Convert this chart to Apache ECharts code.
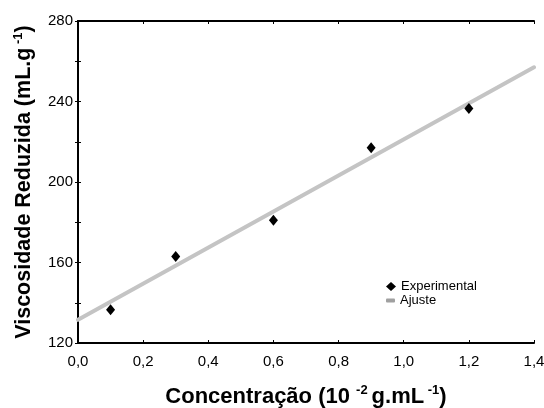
<!DOCTYPE html>
<html><head><meta charset="utf-8">
<script src="https://cdn.jsdelivr.net/npm/echarts@6/dist/echarts.min.js"></script>
<style>html,body{margin:0;padding:0;background:#fff}#c{width:544px;height:408px}</style>
</head><body><div id="c"></div>
<script>
var concentration = [0.1, 0.3, 0.6, 0.9, 1.2];
var viscosity = [136.5, 163, 181, 217, 236.5];
var fitX = [0, 1.4];
var fitY = [131.5, 257];
var xTicks = [0, 1.4, 0.2];
var yTicks = [120, 280, 40];

var ff = 'Liberation Sans, Arial, sans-serif';
var chart = echarts.init(document.getElementById('c'));
var expData = concentration.map(function(x,i){return [x, viscosity[i]];});
var fitData = fitX.map(function(x,i){return [x, fitY[i]];});
function fmt(v){return v.toFixed(1).replace('.', ',');}
var richX = {
  b:{fontFamily:ff,fontSize:22,fontWeight:'bold',color:'#000',lineHeight:25},
  s:{fontFamily:ff,fontSize:13,fontWeight:'bold',color:'#000',verticalAlign:'top',lineHeight:14,padding:[0,4,0,0]},
  t:{fontFamily:ff,fontSize:13,fontWeight:'bold',color:'#000',verticalAlign:'top',lineHeight:14}
};
var richY = {
  b:{fontFamily:ff,fontSize:21.5,fontWeight:'bold',color:'#000',lineHeight:24},
  t:{fontFamily:ff,fontSize:13,fontWeight:'bold',color:'#000',verticalAlign:'top',lineHeight:14}
};
var legendText = {fontFamily:ff,fontSize:13,color:'#000'};
chart.setOption({
  animation:false,
  backgroundColor:'#fff',
  grid:{left:78,right:10,top:21,bottom:65,outerBoundsMode:'none',containLabel:false},
  legend:[{
    orient:'vertical', left:381, top:275, itemWidth:10, itemHeight:9,
    textStyle:legendText,
    data:[{name:'Experimental',icon:'diamond',itemStyle:{color:'#000',opacity:1}}]
  },{
    orient:'vertical', left:381, top:289, itemWidth:9, itemHeight:4,
    textStyle:legendText,
    data:[{name:'Ajuste',icon:'roundRect',itemStyle:{color:'#a0a0a0'}}]
  }],
  xAxis:[{
    type:'value', min:xTicks[0], max:xTicks[1], interval:xTicks[2],
    axisLine:{lineStyle:{color:'#000',width:2}},
    axisTick:{inside:true,length:3,lineStyle:{color:'#000'}},
    splitLine:{show:false},
    axisLabel:{fontFamily:ff,fontSize:15,color:'#000',margin:11,formatter:fmt},
    name:'{b|Concentração (10 }{s|-2}{b|g.mL}{t| -1}{b|)}',
    nameLocation:'middle', nameGap:41,
    nameTextStyle:{rich:richX}
  },{
    type:'value', position:'top', min:xTicks[0], max:xTicks[1], interval:xTicks[2],
    axisLine:{lineStyle:{color:'#000',width:2}},
    axisTick:{inside:true,length:3,lineStyle:{color:'#000'}},
    axisLabel:{show:false}, splitLine:{show:false}
  }],
  yAxis:[{
    type:'value', min:yTicks[0], max:yTicks[1], interval:yTicks[2],
    axisLine:{lineStyle:{color:'#000',width:2}},
    axisTick:{inside:true,length:3,lineStyle:{color:'#000'}},
    minorTick:{show:true,splitNumber:2,length:3,lineStyle:{color:'#000'}},
    splitLine:{show:false},
    axisLabel:{fontFamily:ff,fontSize:15,color:'#000',margin:5},
    name:'{b|Viscosidade Reduzida (mL.g}{t| -1}{b|)}',
    nameLocation:'middle', nameGap:42, nameRotate:90,
    nameTextStyle:{rich:richY}
  },{
    type:'value', position:'right', min:yTicks[0], max:yTicks[1], interval:yTicks[2],
    axisLine:{show:true,lineStyle:{color:'#000',width:2}},
    axisTick:{show:true,inside:true,length:3,lineStyle:{color:'#000'}},
    minorTick:{show:true,splitNumber:2,length:3,lineStyle:{color:'#000'}},
    axisLabel:{show:false}, splitLine:{show:false}
  }],
  series:[{
    name:'Ajuste', type:'line', data:fitData, symbol:'none', z:1,
    lineStyle:{color:'#c4c4c4',width:4,cap:'round'}, itemStyle:{color:'#a0a0a0'}
  },{
    name:'Experimental', type:'scatter', data:expData, symbol:'diamond', symbolSize:[9,11], z:3,
    itemStyle:{color:'#000',opacity:1}
  }]
});
</script></body></html>
